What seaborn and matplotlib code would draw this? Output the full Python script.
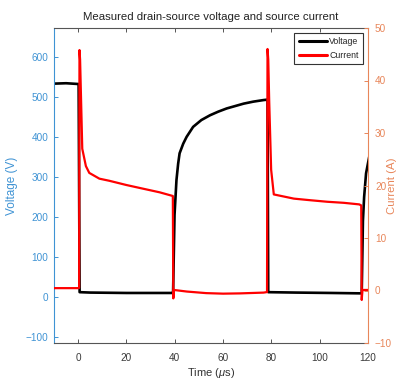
import matplotlib
matplotlib.use("Agg")
import matplotlib.pyplot as plt
import seaborn as sns
from matplotlib.lines import Line2D

# ---- data ----
voltage_t = [-10, -5, 0.2, 0.6, 5, 20, 39.0, 39.3, 39.9, 40.7, 41.4, 42.0, 43.5, 44.9,
             47.6, 51.0, 54.6, 58.0, 61.5, 65.0, 68.5, 72.5, 76.8, 78.4, 78.7, 90, 105,
             117.4, 117.9, 118.4, 119.2, 120.5]
voltage_v = [533, 534, 532, 12, 11, 10, 10, 10, 205, 292, 333, 359, 383, 400,
             425, 442, 454, 463, 471, 477, 483, 488, 492, 493, 12, 11, 10,
             9, 190, 250, 309, 350]

current_t = [-10, 0.2, 0.4, 0.55, 0.8, 1.7, 3.2, 4.6, 8.8, 12.9, 19.9, 26.8, 33.75, 39.2,
             39.4, 39.7, 45, 53, 60, 67, 76.8, 78.2, 78.4, 78.7, 79.1, 79.9, 81.0,
             89.3, 96, 103.2, 110, 116.4, 117.2, 117.4, 117.7, 120]
current_a = [0.45, 0.45, 0.5, 45.8, 44, 27, 23.7, 22.4, 21.3, 20.9, 20.1, 19.4, 18.7, 18.0,
             -1.5, 0.1, -0.2, -0.5, -0.6, -0.55, -0.4, -0.3, 46, 44, 36, 23, 18.3,
             17.5, 17.2, 16.9, 16.7, 16.4, 16.2, -1.8, 0.1, 0.1]

x_ticks = [0, 20, 40, 60, 80, 100, 120]
v_ticks = [-100, 0, 100, 200, 300, 400, 500, 600]
i_ticks = [-10, 0, 10, 20, 30, 40, 50]

title = "Measured drain-source voltage and source current"
series_names = ["Voltage", "Current"]

# ---- style ----
sns.set_theme(style="white")
plt.rcParams['font.family'] = ['Liberation Sans', 'DejaVu Sans']
plt.rcParams['mathtext.fontset'] = 'custom'
plt.rcParams['mathtext.it'] = 'Liberation Sans:italic'
plt.rcParams['mathtext.rm'] = 'Liberation Sans'

BLUE = "#3f93d4"
ORANGE = "#e8865a"
DARK = "#333333"

fig = plt.figure(figsize=(3.99, 3.83), dpi=100)
ax = fig.add_axes([54/399, 1-343/383, (368-54)/399, (343-28)/383])
ax2 = ax.twinx()

sns.lineplot(x=voltage_t, y=voltage_v, ax=ax, color="black", linewidth=1.9,
             sort=False, estimator=None)
sns.lineplot(x=current_t, y=current_a, ax=ax2, color="red", linewidth=1.6,
             sort=False, estimator=None)

ax.set_xlim(-10, 120)
ax.set_ylim(-115, 672)
ax2.set_ylim(-10, 50)
ax.set_xticks(x_ticks)
ax.set_yticks(v_ticks)
ax2.set_yticks(i_ticks)

# spines
for s in ["top", "bottom"]:
    ax.spines[s].set_color("#555555")
    ax.spines[s].set_linewidth(0.8)
ax.spines["left"].set_color(BLUE)
ax.spines["left"].set_linewidth(0.8)
ax.spines["right"].set_visible(False)
for s in ["top", "bottom", "left"]:
    ax2.spines[s].set_visible(False)
ax2.spines["right"].set_color(ORANGE)
ax2.spines["right"].set_linewidth(0.8)

ax.tick_params(axis="x", direction="in", length=3, width=0.7, top=True, bottom=True,
               colors="#555555", labelcolor="#3a3a3a", labelsize=7.2, pad=7)
ax.tick_params(axis="y", direction="in", length=3, width=0.7, left=True, right=False,
               colors=BLUE, labelcolor=BLUE, labelsize=7.2, pad=4)
ax2.tick_params(axis="y", direction="in", length=3, width=0.7, right=True, left=False,
                colors=ORANGE, labelcolor=ORANGE, labelsize=7.2, pad=5)

ax.set_xlabel("Time ($\\mu$s)", fontsize=8, color="#333333")
ax.xaxis.set_label_coords(0.5, -0.072)
ax.set_ylabel("Voltage (V)", fontsize=8.5, color=BLUE)
ax.yaxis.set_label_coords(-0.115, 0.5)
ax2.set_ylabel("Current (A)", fontsize=8.2, color=ORANGE, rotation=90)
ax2.yaxis.set_label_coords(1.06, 0.5)

ax.set_title(title, fontsize=8.2, color="#222222", pad=6)

handles = [Line2D([], [], color="black", linewidth=2.2),
           Line2D([], [], color="red", linewidth=2.2)]
leg = ax2.legend(handles, series_names, loc="upper right", fontsize=6.3,
                 frameon=True, fancybox=False, edgecolor=DARK, framealpha=1,
                 handlelength=3.2, handletextpad=0.3, borderpad=0.5,
                 labelspacing=0.55, borderaxespad=0.55)
leg.get_frame().set_linewidth(0.8)

fig.savefig("out.png", dpi=100)
